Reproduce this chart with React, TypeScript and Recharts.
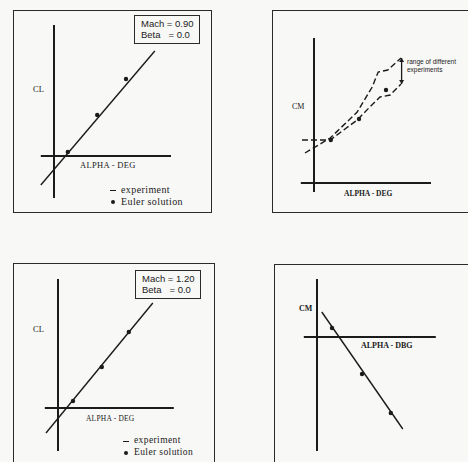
import { LineChart, Line, XAxis, YAxis, ReferenceLine, ReferenceDot } from "recharts";
import type { CSSProperties } from "react";

// panel 1: CL vs alpha, Mach 0.90
const clExp090 = [
  { a: -2.2, v: -0.29 },
  { a: 16.8, v: 1.05 },
];
const clEuler090 = [
  { a: 2.3, v: 0.04 },
  { a: 7.2, v: 0.41 },
  { a: 12.0, v: 0.77 },
];

// panel 2: CM vs alpha, Mach 0.90 (band of experiments)
const cmUpper090 = [
  { a: -1.5, v: 0.3 },
  { a: 2.7, v: 0.45 },
  { a: 7.2, v: 0.71 },
  { a: 9.7, v: 0.96 },
  { a: 10.7, v: 1.11 },
  { a: 12.3, v: 1.13 },
  { a: 14.5, v: 1.25 },
];
const cmLower090 = [
  { a: -2.0, v: 0.43 },
  { a: 2.7, v: 0.43 },
  { a: 7.2, v: 0.63 },
  { a: 9.3, v: 0.76 },
  { a: 11.0, v: 0.86 },
  { a: 12.7, v: 0.88 },
  { a: 14.5, v: 0.99 },
];
const cmEuler090 = [
  { a: 2.8, v: 0.43 },
  { a: 7.5, v: 0.64 },
  { a: 12.0, v: 0.93 },
];
const rangeAlpha = 14.6;
const rangeTop = 1.25;
const rangeBottom = 0.99;

// panel 3: CL vs alpha, Mach 1.20
const clExp120 = [
  { a: -2.0, v: -0.25 },
  { a: 15.8, v: 1.05 },
];
const clEuler120 = [
  { a: 2.5, v: 0.07 },
  { a: 7.3, v: 0.41 },
  { a: 11.8, v: 0.76 },
];

// panel 4: CM vs alpha, Mach 1.20
const cmExp120 = [
  { a: 0.8, v: 0.25 },
  { a: 14.3, v: -0.92 },
];
const cmEuler120 = [
  { a: 2.5, v: 0.09 },
  { a: 7.5, v: -0.37 },
  { a: 12.3, v: -0.76 },
];

const ink = "#1b1b1b";
const serif = "'Liberation Serif', 'DejaVu Serif', serif";
const sans = "'Liberation Sans', Arial, sans-serif";

function Frame({ left, top, width, height, open }: { left: number; top: number; width: number; height: number; open?: string[] }) {
  const edge = "1.5px solid #2a2a2a";
  const o = open || [];
  return (
    <div
      style={{
        position: "absolute",
        left,
        top,
        width,
        height,
        borderTop: o.includes("top") ? "none" : edge,
        borderLeft: o.includes("left") ? "none" : edge,
        borderRight: o.includes("right") ? "none" : edge,
        borderBottom: o.includes("bottom") ? "none" : edge,
        boxSizing: "border-box",
      }}
    />
  );
}

function Txt({ x, y, size, font, children, style }: { x: number; y: number; size: number; font: string; children: any; style?: CSSProperties }) {
  return (
    <div
      style={{
        position: "absolute",
        left: x,
        top: y - size * 0.6,
        fontSize: size,
        lineHeight: 1.2,
        fontFamily: font,
        color: ink,
        whiteSpace: "pre",
        ...style,
      }}
    >
      {children}
    </div>
  );
}

function MachBox({ left, top, mach }: { left: number; top: number; mach: string }) {
  return (
    <div
      style={{
        position: "absolute",
        left,
        top,
        width: 66,
        height: 29,
        border: "1.5px solid #2a2a2a",
        boxSizing: "border-box",
        fontFamily: sans,
        fontSize: 9.5,
        lineHeight: "10.5px",
        color: ink,
        padding: "3px 0 0 6px",
        whiteSpace: "pre",
      }}
    >
      <div>{`Mach = ${mach}`}</div>
      <div>{"Beta   = 0.0"}</div>
    </div>
  );
}

function Legend2({ x, y, size }: { x: number; y: number; size: number }) {
  return (
    <>
      <div style={{ position: "absolute", left: x, top: y, width: 6, height: 1.3, background: ink }} />
      <Txt x={x + 11} y={y} size={size} font={serif} style={{ letterSpacing: 0.4 }}>
        experiment
      </Txt>
      <div
        style={{
          position: "absolute",
          left: x + 1,
          top: y + 9.5,
          width: 4,
          height: 4,
          borderRadius: 2,
          background: ink,
        }}
      />
      <Txt x={x + 11} y={y + 11.5} size={size} font={serif} style={{ letterSpacing: 0.4 }}>
        Euler solution
      </Txt>
    </>
  );
}

type Pt = { a: number; v: number };

function Panel({
  left,
  top,
  yMin,
  yMax,
  xAxisSeg,
  yAxisSeg,
  children,
}: {
  left: number;
  top: number;
  yMin: number;
  yMax: number;
  xAxisSeg: [number, number];
  yAxisSeg: [number, number];
  children: any;
}) {
  // 6 px per degree, 100 px per coefficient unit
  const width = 180;
  const height = Math.round((yMax - yMin) * 100);
  return (
    <div style={{ position: "absolute", left, top }}>
      <LineChart width={width} height={height} margin={{ top: 0, right: 0, bottom: 0, left: 0 }}>
        <XAxis type="number" dataKey="a" domain={[-5, 25]} hide allowDataOverflow />
        <YAxis type="number" dataKey="v" domain={[yMin, yMax]} hide allowDataOverflow />
        <ReferenceLine
          segment={[
            { x: xAxisSeg[0], y: 0 },
            { x: xAxisSeg[1], y: 0 },
          ]}
          stroke={ink}
          strokeWidth={2}
        />
        <ReferenceLine
          segment={[
            { x: 0, y: yAxisSeg[0] },
            { x: 0, y: yAxisSeg[1] },
          ]}
          stroke={ink}
          strokeWidth={2}
        />
        {children}
      </LineChart>
    </div>
  );
}

function expLine(data: Pt[], dashed = false) {
  return (
    <Line
      data={data}
      dataKey="v"
      type="linear"
      stroke={ink}
      strokeWidth={1.4}
      strokeDasharray={dashed ? "6 3" : undefined}
      dot={false}
      isAnimationActive={false}
    />
  );
}

function eulerDots(data: Pt[]) {
  return (
    <Line
      data={data}
      dataKey="v"
      stroke="none"
      dot={{ r: 2.2, fill: ink, stroke: "none" }}
      isAnimationActive={false}
    />
  );
}

const arrow = (up: boolean) => (props: any) => {
  const { cx, cy } = props;
  const d = up
    ? `M${cx - 2.5},${cy + 4} L${cx},${cy} L${cx + 2.5},${cy + 4} Z`
    : `M${cx - 2.5},${cy - 4} L${cx},${cy} L${cx + 2.5},${cy - 4} Z`;
  return <path d={d} fill={ink} />;
};

export default function App() {
  return (
    <div
      style={{
        position: "absolute",
        left: 0,
        top: 0,
        width: 468,
        height: 462,
        background: "#f8f8f6",
        overflow: "hidden",
      }}
    >
      <Frame left={13} top={10} width={199} height={203} />
      <Frame left={272} top={10} width={196} height={203} open={["right"]} />
      <Frame left={13} top={263} width={202} height={199} open={["bottom"]} />
      <Frame left={274} top={264} width={194} height={198} open={["right", "bottom"]} />

      {/* panel 1 */}
      <Panel left={24} top={16} yMin={-0.6} yMax={1.4} xAxisSeg={[-2.2, 19.5]} yAxisSeg={[-0.42, 1.31]}>
        {expLine(clExp090)}
        {eulerDots(clEuler090)}
      </Panel>
      <MachBox left={134} top={15} mach="0.90" />
      <Txt x={33} y={89} size={8.5} font={serif}>CL</Txt>
      <Txt x={80} y={165} size={8.5} font={serif} style={{ letterSpacing: 0.3 }}>ALPHA - DEG</Txt>
      <Legend2 x={110} y={190} size={10} />

      {/* panel 2 */}
      <Panel left={284} top={33} yMin={-0.2} yMax={1.5} xAxisSeg={[-2.2, 19.5]} yAxisSeg={[-0.09, 1.45]}>
        {expLine(cmUpper090, true)}
        {expLine(cmLower090, true)}
        {eulerDots(cmEuler090)}
        <ReferenceLine
          segment={[
            { x: rangeAlpha, y: rangeBottom },
            { x: rangeAlpha, y: rangeTop },
          ]}
          stroke={ink}
          strokeWidth={1.3}
        />
        <ReferenceDot x={rangeAlpha} y={rangeTop} shape={arrow(true)} />
        <ReferenceDot x={rangeAlpha} y={rangeBottom} shape={arrow(false)} />
      </Panel>
      <Txt x={292} y={107} size={8} font={serif}>CM</Txt>
      <Txt x={344} y={193} size={7.5} font={serif} style={{ fontWeight: 700 }}>ALPHA - DEG</Txt>
      <Txt x={407} y={62} size={6.5} font={sans}>range of different</Txt>
      <Txt x={407} y={70} size={6.5} font={sans}>experiments</Txt>

      {/* panel 3 */}
      <Panel left={28} top={268} yMin={-0.5} yMax={1.4} xAxisSeg={[-2.2, 19.3]} yAxisSeg={[-0.43, 1.29]}>
        {expLine(clExp120)}
        {eulerDots(clEuler120)}
      </Panel>
      <MachBox left={135} top={270} mach="1.20" />
      <Txt x={33} y={329} size={8.5} font={serif}>CL</Txt>
      <Txt x={86} y={418} size={7.5} font={serif} style={{ letterSpacing: 0.2 }}>ALPHA - DEG</Txt>
      <Legend2 x={123} y={441} size={9.5} />

      {/* panel 4 */}
      <Panel left={287} top={267} yMin={-1.3} yMax={0.7} xAxisSeg={[-2.2, 19.8]} yAxisSeg={[-1.14, 0.58]}>
        {expLine(cmExp120)}
        {eulerDots(cmEuler120)}
      </Panel>
      <Txt x={299} y={309} size={8} font={serif} style={{ fontWeight: 700 }}>CM</Txt>
      <Txt x={361} y={346} size={8} font={serif} style={{ fontWeight: 700 }}>ALPHA - DBG</Txt>
    </div>
  );
}
